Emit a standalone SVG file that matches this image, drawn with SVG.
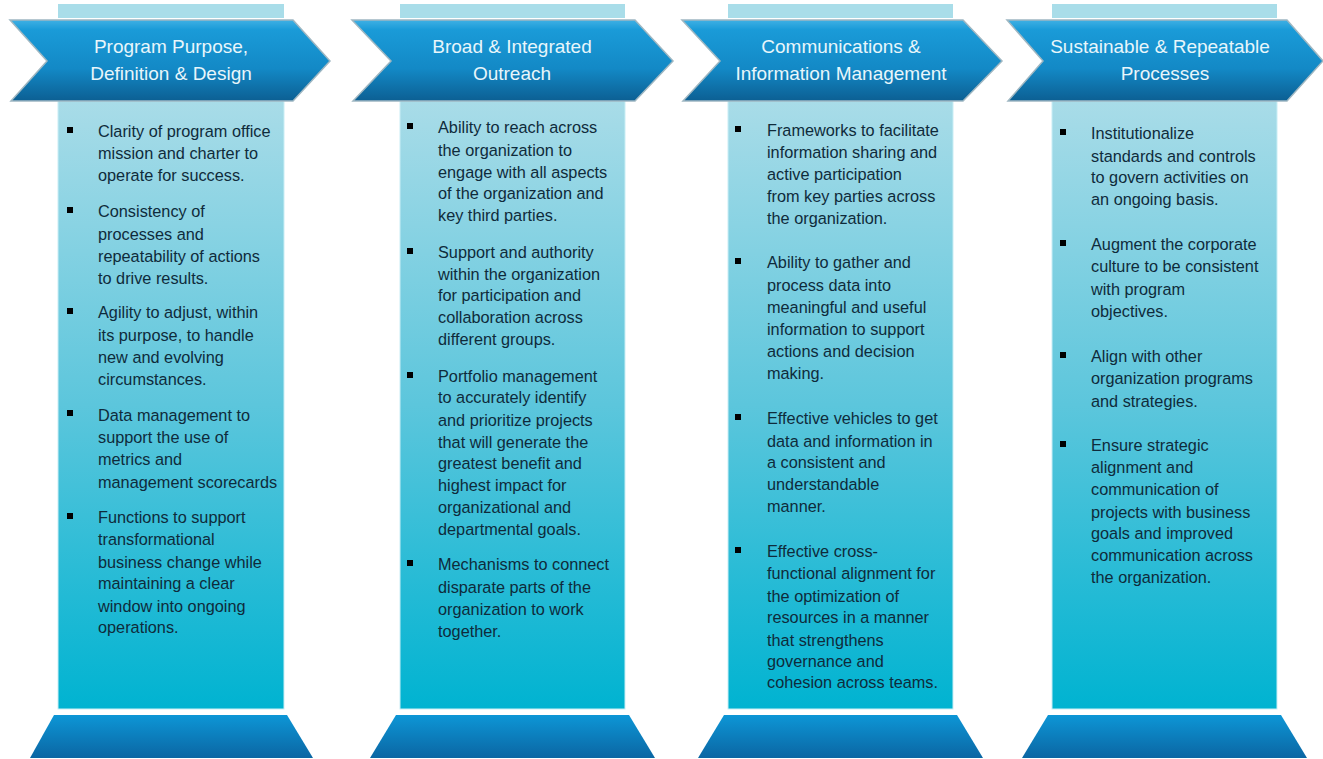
<svg xmlns="http://www.w3.org/2000/svg" width="1323" height="759" viewBox="0 0 1323 759">
<defs>
<linearGradient id="shaft" x1="0" y1="0" x2="0" y2="1">
<stop offset="0" stop-color="#a9dce8"/>
<stop offset="0.5" stop-color="#5cc6dc"/>
<stop offset="1" stop-color="#00b3d1"/>
</linearGradient>
<linearGradient id="head" x1="0" y1="0" x2="0" y2="1">
<stop offset="0" stop-color="#3fb0e4"/>
<stop offset="0.12" stop-color="#1a9bd8"/>
<stop offset="0.6" stop-color="#1389c6"/>
<stop offset="1" stop-color="#0c5f93"/>
</linearGradient>
<linearGradient id="base" x1="0" y1="0" x2="0" y2="1">
<stop offset="0" stop-color="#0d96d6"/>
<stop offset="1" stop-color="#0b66a3"/>
</linearGradient>
<style>
.cap{fill:#a9dde9}
.shaft{fill:url(#shaft);stroke:#c9eef5;stroke-width:1}
.head{fill:url(#head);stroke:#9fb7c2;stroke-width:1.5}
.base{fill:url(#base)}
.ht{font-family:"Liberation Sans",Arial,sans-serif;font-size:19px;fill:#e8f6fb;text-anchor:middle}
.bt{font-family:"Liberation Sans",Arial,sans-serif;font-size:16.3px;fill:#0f2b3b}
.b{fill:#000}
</style>
</defs>

<g id="col1">
<rect class="cap" x="58" y="4" width="226" height="14"/>
<rect class="shaft" x="58" y="100" width="226" height="609"/>
<polygon class="base" points="54,715 287,715 313,758 30,758"/>
<polygon class="head" points="10,20 293,20 330,61 293,101 11,101 47,61"/>
<text class="ht"><tspan x="171" y="53">Program Purpose,</tspan><tspan x="171" y="80">Definition &amp; Design</tspan></text>
<rect class="b" x="67" y="127" width="6" height="6"/>
<rect class="b" x="67" y="207" width="6" height="6"/>
<rect class="b" x="67" y="308" width="6" height="6"/>
<rect class="b" x="67" y="410" width="6" height="6"/>
<rect class="b" x="67" y="513" width="6" height="6"/>
<text class="bt">
<tspan x="98" y="137">Clarity of program office</tspan>
<tspan x="98" y="159">mission and charter to</tspan>
<tspan x="98" y="181">operate for success.</tspan>
<tspan x="98" y="217">Consistency of</tspan>
<tspan x="98" y="240">processes and</tspan>
<tspan x="98" y="262">repeatability of actions</tspan>
<tspan x="98" y="284">to drive results.</tspan>
<tspan x="98" y="318">Agility to adjust, within</tspan>
<tspan x="98" y="341">its purpose, to handle</tspan>
<tspan x="98" y="363">new and evolving</tspan>
<tspan x="98" y="385">circumstances.</tspan>
<tspan x="98" y="421">Data management to</tspan>
<tspan x="98" y="443">support the use of</tspan>
<tspan x="98" y="465">metrics and</tspan>
<tspan x="98" y="488">management scorecards</tspan>
<tspan x="98" y="523">Functions to support</tspan>
<tspan x="98" y="545">transformational</tspan>
<tspan x="98" y="568">business change while</tspan>
<tspan x="98" y="589">maintaining a clear</tspan>
<tspan x="98" y="612">window into ongoing</tspan>
<tspan x="98" y="633">operations.</tspan>
</text>
</g>

<g id="col2">
<rect class="cap" x="400" y="4" width="225" height="14"/>
<rect class="shaft" x="400" y="100" width="225" height="609"/>
<polygon class="base" points="396,715 629,715 655,758 370,758"/>
<polygon class="head" points="352,20 635,20 673,61 635,101 353,101 391,61"/>
<text class="ht"><tspan x="512" y="53">Broad &amp; Integrated</tspan><tspan x="512" y="80">Outreach</tspan></text>
<rect class="b" x="407" y="123" width="6" height="6"/>
<rect class="b" x="407" y="248" width="6" height="6"/>
<rect class="b" x="407" y="372" width="6" height="6"/>
<rect class="b" x="407" y="560" width="6" height="6"/>
<text class="bt">
<tspan x="438" y="133">Ability to reach across</tspan>
<tspan x="438" y="156">the organization to</tspan>
<tspan x="438" y="178">engage with all aspects</tspan>
<tspan x="438" y="199">of the organization and</tspan>
<tspan x="438" y="221">key third parties.</tspan>
<tspan x="438" y="258">Support and authority</tspan>
<tspan x="438" y="280">within the organization</tspan>
<tspan x="438" y="301">for participation and</tspan>
<tspan x="438" y="323">collaboration across</tspan>
<tspan x="438" y="345">different groups.</tspan>
<tspan x="438" y="382">Portfolio management</tspan>
<tspan x="438" y="403">to accurately identify</tspan>
<tspan x="438" y="426">and prioritize projects</tspan>
<tspan x="438" y="448">that will generate the</tspan>
<tspan x="438" y="469">greatest benefit and</tspan>
<tspan x="438" y="491">highest impact for</tspan>
<tspan x="438" y="513">organizational and</tspan>
<tspan x="438" y="535">departmental goals.</tspan>
<tspan x="438" y="570">Mechanisms to connect</tspan>
<tspan x="438" y="593">disparate parts of the</tspan>
<tspan x="438" y="615">organization to work</tspan>
<tspan x="438" y="637">together.</tspan>
</text>
</g>

<g id="col3">
<rect class="cap" x="728" y="4" width="225" height="14"/>
<rect class="shaft" x="728" y="100" width="225" height="609"/>
<polygon class="base" points="724,715 957,715 983,758 698,758"/>
<polygon class="head" points="682,20 963,20 1002,61 963,101 683,101 720,61"/>
<text class="ht"><tspan x="841" y="53">Communications &amp;</tspan><tspan x="841" y="80">Information Management</tspan></text>
<rect class="b" x="735" y="126" width="6" height="6"/>
<rect class="b" x="735" y="258" width="6" height="6"/>
<rect class="b" x="735" y="414" width="6" height="6"/>
<rect class="b" x="735" y="547" width="6" height="6"/>
<text class="bt">
<tspan x="767" y="136">Frameworks to facilitate</tspan>
<tspan x="767" y="158">information sharing and</tspan>
<tspan x="767" y="180">active participation</tspan>
<tspan x="767" y="202">from key parties across</tspan>
<tspan x="767" y="224">the organization.</tspan>
<tspan x="767" y="268">Ability to gather and</tspan>
<tspan x="767" y="291">process data into</tspan>
<tspan x="767" y="313">meaningful and useful</tspan>
<tspan x="767" y="335">information to support</tspan>
<tspan x="767" y="357">actions and decision</tspan>
<tspan x="767" y="379">making.</tspan>
<tspan x="767" y="424">Effective vehicles to get</tspan>
<tspan x="767" y="447">data and information in</tspan>
<tspan x="767" y="468">a consistent and</tspan>
<tspan x="767" y="490">understandable</tspan>
<tspan x="767" y="512">manner.</tspan>
<tspan x="767" y="557">Effective cross-</tspan>
<tspan x="767" y="579">functional alignment for</tspan>
<tspan x="767" y="602">the optimization of</tspan>
<tspan x="767" y="623">resources in a manner</tspan>
<tspan x="767" y="646">that strengthens</tspan>
<tspan x="767" y="667">governance and</tspan>
<tspan x="767" y="688">cohesion across teams.</tspan>
</text>
</g>

<g id="col4">
<rect class="cap" x="1052" y="4" width="225" height="14"/>
<rect class="shaft" x="1052" y="100" width="225" height="609"/>
<polygon class="base" points="1048,715 1281,715 1307,758 1022,758"/>
<polygon class="head" points="1007,20 1287,20 1323,61 1287,101 1008,101 1043,61"/>
<text class="ht"><tspan x="1160" y="53">Sustainable &amp; Repeatable</tspan><tspan x="1165" y="80">Processes</tspan></text>
<rect class="b" x="1060" y="129" width="6" height="6"/>
<rect class="b" x="1060" y="240" width="6" height="6"/>
<rect class="b" x="1060" y="352" width="6" height="6"/>
<rect class="b" x="1060" y="441" width="6" height="6"/>
<text class="bt">
<tspan x="1091" y="139">Institutionalize</tspan>
<tspan x="1091" y="162">standards and controls</tspan>
<tspan x="1091" y="183">to govern activities on</tspan>
<tspan x="1091" y="205">an ongoing basis.</tspan>
<tspan x="1091" y="250">Augment the corporate</tspan>
<tspan x="1091" y="272">culture to be consistent</tspan>
<tspan x="1091" y="295">with program</tspan>
<tspan x="1091" y="317">objectives.</tspan>
<tspan x="1091" y="362">Align with other</tspan>
<tspan x="1091" y="384">organization programs</tspan>
<tspan x="1091" y="407">and strategies.</tspan>
<tspan x="1091" y="451">Ensure strategic</tspan>
<tspan x="1091" y="473">alignment and</tspan>
<tspan x="1091" y="495">communication of</tspan>
<tspan x="1091" y="518">projects with business</tspan>
<tspan x="1091" y="539">goals and improved</tspan>
<tspan x="1091" y="561">communication across</tspan>
<tspan x="1091" y="583">the organization.</tspan>
</text>
</g>
</svg>
